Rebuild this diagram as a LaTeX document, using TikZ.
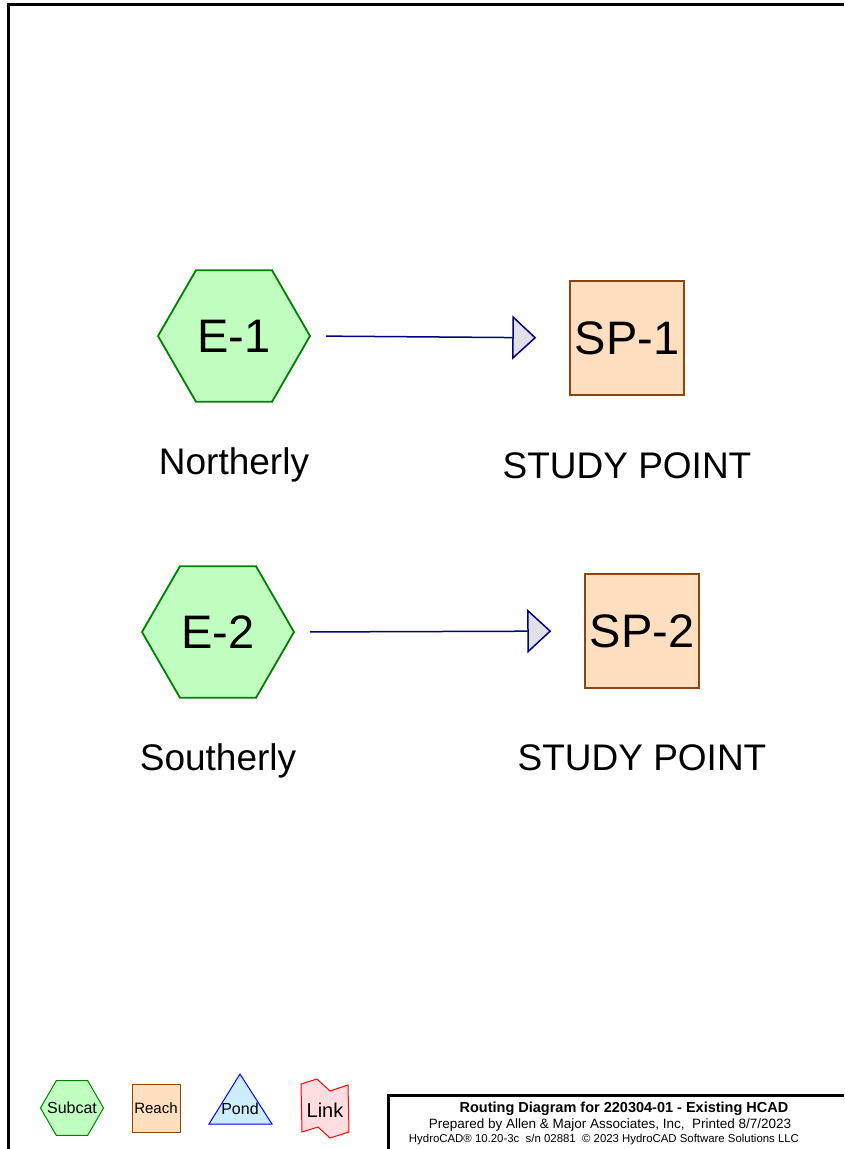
\documentclass[tikz,border=0pt]{standalone}
\usepackage{fontspec}
\setmainfont{Liberation Sans}
\usetikzlibrary{shapes.geometric,arrows.meta}
\definecolor{subfill}{HTML}{C0FFC0}
\definecolor{substroke}{HTML}{008000}
\definecolor{reachfill}{HTML}{FFDFBF}
\definecolor{reachstroke}{HTML}{8B4513}
\definecolor{pondfill}{HTML}{CCEEFF}
\definecolor{pondstroke}{HTML}{0000FF}
\definecolor{linkfill}{HTML}{FFDDE0}
\definecolor{linkstroke}{HTML}{FF0000}
\definecolor{flowcol}{HTML}{000080}
\definecolor{tipfill}{HTML}{E0E0E8}
\newcommand{\fs}[1]{\fontsize{#1}{#1}\selectfont}
\tikzset{
  subcat/.style={regular polygon, regular polygon sides=6, draw=substroke, fill=subfill, line width=1.8pt, inner sep=0pt, minimum size=152pt},
  reachbox/.style={rectangle, draw=reachstroke, fill=reachfill, line width=1.5pt, inner sep=0pt, minimum size=114pt},
  flow/.style={draw=flowcol, line width=1.5pt, shorten <=15pt, shorten >=33pt, -{Triangle[length=24pt,width=44pt,fill=tipfill]}},
  lbl/.style={font=\fs{37}, inner sep=0pt},
  frame/.style={line width=3pt, black},
  idtext/.style={label={[font=\fs{47},inner sep=0pt]center:#1}}
}
\begin{document}
\begin{tikzpicture}[x=1pt,y=-1pt]
\useasboundingbox (0,0) rectangle (844,1149);
% frame
\draw[frame] (8,1149) -- (8,4) -- (844,4);
% main nodes
\node[subcat, idtext={E-1}] (e1) at (234,336) {};
\node[reachbox, idtext={SP-1}] (sp1) at (627,338) {};
\node[subcat, idtext={E-2}] (e2) at (218,632) {};
\node[reachbox, idtext={SP-2}] (sp2) at (642,631) {};
\draw[flow] (e1.east) -- (sp1.west);
\draw[flow] (e2.east) -- (sp2.west);
\node[lbl] (l1) at (234,465) {Northerly};
\node[lbl] (l2) at (627,466) {STUDY POINT};
\node[lbl] (l3) at (218,761) {Southerly};
\node[lbl] (l4) at (642,758) {STUDY POINT};
% legend
\node[subcat, minimum size=63pt, line width=1pt, label={[font=\fs{16},inner sep=0pt]center:Subcat}] (lsub) at (72,1108) {};
\node[reachbox, minimum size=48pt, line width=1pt, label={[font=\fs{15},inner sep=0pt]center:Reach}] (lreach) at (156,1108.5) {};
\draw[draw=pondstroke, fill=pondfill, line width=1pt] (240,1074) -- (272,1124) -- (209,1124) -- cycle;
\node[font=\fs{16}, inner sep=0pt] (lpond) at (240,1109) {Pond};
\draw[draw=linkstroke, fill=linkfill, line width=1pt] (301,1084) -- (317,1079) -- (330,1091) -- (348,1085) -- (349,1132) -- (330,1138) -- (318,1127) -- (302,1132) -- cycle;
\node[font=\fs{20}, inner sep=0pt] (llink) at (325,1110) {Link};
% title block
\draw[frame] (388,1149) -- (388,1095) -- (844,1095);
\node[font=\bfseries\fs{14.5}, inner sep=0pt, anchor=base] (t1) at (624,1112) {Routing Diagram for 220304-01 - Existing HCAD};
\node[font=\fs{13.5}, inner sep=0pt, anchor=base] (t2) at (610,1128) {Prepared by Allen \& Major Associates, Inc,\ \ Printed 8/7/2023};
\node[font=\fs{11.4}, inner sep=0pt, anchor=base] (t3) at (604,1142) {HydroCAD® 10.20-3c\ \ s/n 02881\ \ © 2023 HydroCAD Software Solutions LLC};
\end{tikzpicture}
\end{document}
